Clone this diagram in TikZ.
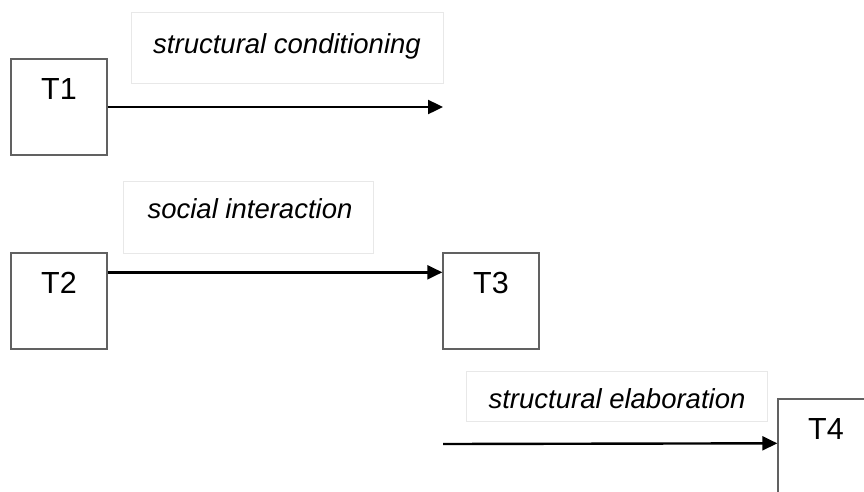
\documentclass[tikz,border=0pt]{standalone}
\usepackage{fontspec}
\setmainfont{Liberation Sans}
\usetikzlibrary{arrows.meta}
\begin{document}
\begin{tikzpicture}[x=1pt,y=-1pt,
  tbox/.style={draw=black!62, line width=1.4pt, fill=white, inner sep=0pt,
    minimum width=96pt, text height=40pt, text depth=56pt,
    font=\fontsize{30.5}{34}\selectfont},
  lblbox/.style={draw=black!9, line width=0.8pt, inner sep=0pt},
  lbltext/.style={font=\fontsize{27.5}{31}\selectfont\itshape, anchor=base, inner sep=0pt},
  flow/.style={line width=2.4pt, -{Triangle[length=15pt,width=14pt]}}]
\useasboundingbox (0,0) rectangle (864,491);
\clip (0,0) rectangle (864,491);

% caption frames
\node[lblbox, minimum width=312pt, minimum height=71pt] (c1box) at (287,47.5) {};
\node[lblbox, minimum width=250pt, minimum height=72pt] (c2box) at (248,217) {};
\node[lblbox, minimum width=301pt, minimum height=50pt] (c3box) at (616.5,396) {};

% caption texts
\node[lbltext] (c1) at (287,53) {structural conditioning};
\node[lbltext] (c2) at (250,218) {social interaction};
\node[lbltext] (c3) at (617,408) {structural elaboration};

% time boxes
\node[tbox] (t1) at (59,107) {T1};
\node[tbox] (t2) at (59,301) {T2};
\node[tbox] (t3) at (491,301) {T3};
\node[tbox] (t4) at (826,447) {T4};

% free ends of the open arrows
\coordinate (e1) at (443,107);
\coordinate (s4) at (443,444);

% arrows
\draw[flow] (t1.east) -- (e1);
\draw[flow] ([yshift=-20pt]t2.north east) -- ([yshift=-20pt]t3.north west);
\draw[flow] (s4) -- ([yshift=-45pt]t4.north west);
\end{tikzpicture}
\end{document}
